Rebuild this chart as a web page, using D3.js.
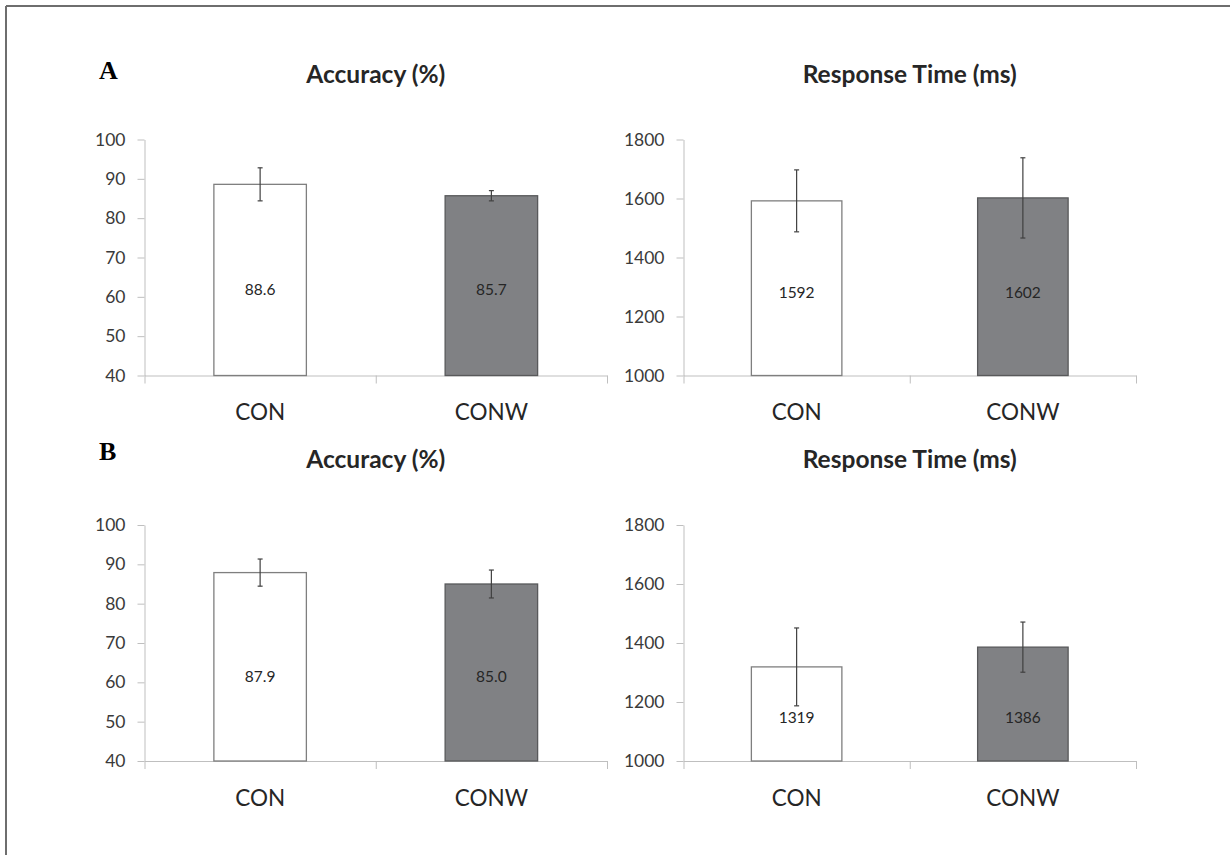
<!DOCTYPE html>
<html>
<head>
<meta charset="utf-8">
<script src="https://cdn.jsdelivr.net/npm/d3@7"></script>
<style>
  body { margin: 0; background: #fff; }
  svg { display: block; }
</style>
</head>
<body>
<svg id="fig" width="1230" height="855"></svg>
<script>
// groups on the x axis
const groups = ["CON", "CONW"];

// panel A
const accA = [88.6, 85.7];
const accAErr = [4.2, 1.3];
const rtA = [1592, 1602];
const rtAErr = [105, 136];

// panel B
const accB = [87.9, 85.0];
const accBErr = [3.45, 3.55];
const rtB = [1319, 1386];
const rtBErr = [132, 85];

// axis ticks
const accTicks = [40, 50, 60, 70, 80, 90, 100];
const rtTicks = [1000, 1200, 1400, 1600, 1800];

const titles = ["Accuracy (%)", "Response Time (ms)"];
const rowLetters = ["A", "B"];

const barFill = ["#ffffff", "#808184"];
const barStroke = ["#7f7f7f", "#58595b"];

const svg = d3.select("#fig");

// outer frame (only top and left edges fall inside the picture)
svg.append("line").attr("x1", 6).attr("x2", 1230).attr("y1", 6).attr("y2", 6)
    .attr("stroke", "#6e6e6e").attr("stroke-width", 2);
svg.append("line").attr("x1", 6).attr("x2", 6).attr("y1", 6).attr("y2", 855)
    .attr("stroke", "#6e6e6e").attr("stroke-width", 2);

const panels = [
    { row: 0, col: 0, vals: accA, err: accAErr, ticks: accTicks, fmt: d3.format(".1f") },
    { row: 0, col: 1, vals: rtA, err: rtAErr, ticks: rtTicks, fmt: d3.format("d") },
    { row: 1, col: 0, vals: accB, err: accBErr, ticks: accTicks, fmt: d3.format(".1f") },
    { row: 1, col: 1, vals: rtB, err: rtBErr, ticks: rtTicks, fmt: d3.format("d") }
];

const colX = [[144.5, 607], [683.5, 1136]];
const rowY = [[375.5, 139.5], [761, 525]];

rowLetters.forEach((l, i) => {
    svg.append("text")
        .attr("x", 99)
        .attr("y", i === 0 ? 78.5 : 459.5)
        .style("font-family", "'Liberation Serif', 'Times New Roman', serif")
        .style("font-weight", "bold")
        .style("font-size", "26px")
        .style("fill", "#000")
        .text(l);
});

panels.forEach(p => {
    const g = svg.append("g");
    const [x0, x1] = colX[p.col];
    const [y0, y1] = rowY[p.row];

    const y = d3.scaleLinear()
        .domain(d3.extent(p.ticks))
        .range([y0, y1]);

    const x = d3.scaleBand()
        .domain(groups)
        .range([x0, x1])
        .paddingInner(0.6)
        .paddingOuter(0.3);

    const edge = d3.scaleLinear().domain([0, groups.length]).range([x0, x1]);

    // title
    g.append("text")
        .attr("x", (x0 + x1) / 2)
        .attr("y", y1 - 57)
        .attr("text-anchor", "middle")
        .style("font-family", "Lato, 'Open Sans', sans-serif")
        .style("font-weight", "bold")
        .style("font-size", "24.5px")
        .style("fill", "#262626")
        .text(titles[p.col]);

    // y axis
    const yAxis = g.append("g")
        .attr("transform", `translate(${x0},0)`)
        .call(d3.axisLeft(y).tickValues(p.ticks).tickFormat(d3.format("d"))
            .tickSizeInner(7).tickSizeOuter(0).tickPadding(12));
    yAxis.select(".domain").attr("stroke", "#bfbfbf");
    yAxis.selectAll(".tick line").attr("stroke", "#bfbfbf");
    yAxis.selectAll("text")
        .style("font-family", "Lato, 'Open Sans', sans-serif")
        .style("font-size", "17.5px")
        .style("fill", "#3a3a3a");

    // x axis with ticks between categories
    const xAxis = g.append("g")
        .attr("transform", `translate(0,${y0})`)
        .call(d3.axisBottom(edge).tickValues(d3.range(groups.length + 1)).tickFormat("")
            .tickSizeInner(8).tickSizeOuter(0));
    xAxis.select(".domain").attr("stroke", "#bfbfbf");
    xAxis.selectAll(".tick line").attr("stroke", "#bfbfbf");

    g.selectAll(".xlab")
        .data(groups)
        .enter()
        .append("text")
        .attr("x", d => x(d) + x.bandwidth() / 2)
        .attr("y", y0 + 44.5)
        .attr("text-anchor", "middle")
        .style("font-family", "Lato, 'Open Sans', sans-serif")
        .style("font-size", "22.5px")
        .style("fill", "#262626")
        .text(d => d);

    // bars
    g.selectAll(".bar")
        .data(p.vals)
        .enter()
        .append("rect")
        .attr("x", (d, i) => x(groups[i]))
        .attr("y", d => y(d))
        .attr("width", x.bandwidth())
        .attr("height", d => y0 - y(d))
        .attr("fill", (d, i) => barFill[i])
        .attr("stroke", (d, i) => barStroke[i])
        .attr("stroke-width", 1.3);

    // error bars
    const eb = g.selectAll(".err")
        .data(p.vals)
        .enter()
        .append("g")
        .attr("stroke", "#404040")
        .attr("stroke-width", 1.2);
    eb.append("line")
        .attr("x1", (d, i) => x(groups[i]) + x.bandwidth() / 2)
        .attr("x2", (d, i) => x(groups[i]) + x.bandwidth() / 2)
        .attr("y1", (d, i) => y(d + p.err[i]))
        .attr("y2", (d, i) => y(d - p.err[i]));
    [1, -1].forEach(s => {
        eb.append("line")
            .attr("x1", (d, i) => x(groups[i]) + x.bandwidth() / 2 - 2.5)
            .attr("x2", (d, i) => x(groups[i]) + x.bandwidth() / 2 + 2.5)
            .attr("y1", (d, i) => y(d + s * p.err[i]))
            .attr("y2", (d, i) => y(d + s * p.err[i]));
    });

    // value labels, placed at the middle of the shorter bar
    const labelY = (y(d3.min(p.vals)) + y0) / 2 + 4;
    g.selectAll(".val")
        .data(p.vals)
        .enter()
        .append("text")
        .attr("x", (d, i) => x(groups[i]) + x.bandwidth() / 2)
        .attr("y", labelY)
        .attr("dy", "0.35em")
        .attr("text-anchor", "middle")
        .style("font-family", "Lato, 'Open Sans', sans-serif")
        .style("font-size", "15.5px")
        .style("fill", "#262626")
        .text(d => p.fmt(d));
});
</script>
</body>
</html>
